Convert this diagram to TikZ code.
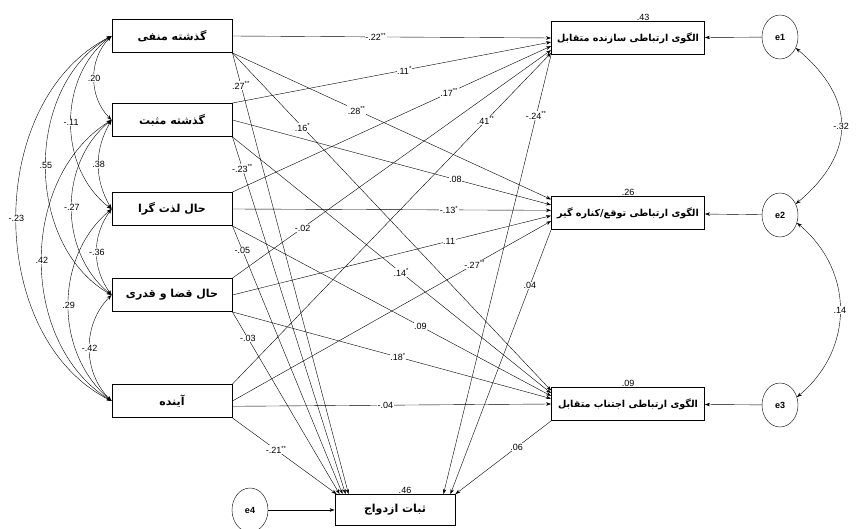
\documentclass[tikz,border=0pt]{standalone}
\usepackage{fontspec}
\setmainfont{Liberation Sans}
\newfontfamily\arabicfont[Script=Arabic]{DejaVu Sans}
\TeXXeTstate=1
\usetikzlibrary{shapes,arrows.meta,calc}
\newcommand{\fa}[1]{{\arabicfont\bfseries\beginR #1\endR}}

\begin{document}
\begin{tikzpicture}
  [
    x=1pt, y=1pt,
    block/.style =
      {draw, rectangle, line width=0.9pt, align=center, minimum width=120pt, minimum height=33pt, font=\fontsize{11}{13}\selectfont},
    wblock/.style =
      {block, minimum width=153pt, font=\fontsize{9.6}{11}\selectfont},
    err/.style =
      {draw, ellipse, minimum width=36pt, minimum height=44pt, font=\fontsize{9}{10}\selectfont\bfseries},
    oarrow/.style =
      {->, >={Stealth[length=5pt, width=3.5pt]}},
    carrow/.style =
      {<->, >={Stealth[length=5pt, width=3.5pt]}},
    coef/.style =
      {fill=white, inner sep=0.6pt, font=\fontsize{9}{10}\selectfont}
  ]

\useasboundingbox (0,0) rectangle (857,528);

\node[block] (B1) at (172,492) {\fa{گذشته منفی}};
\node[block] (B2) at (172,408) {\fa{گذشته مثبت}};
\node[block] (B3) at (172,319) {\fa{حال لذت گرا}};
\node[block] (B4) at (172,233) {\fa{حال قضا و قدری}};
\node[block] (B5) at (172,127) {\fa{آینده}};

\node[wblock, label={[coef, xshift=15pt]above:.43}] (R1) at (628,490) {\fa{الگوی ارتباطی سازنده متقابل}};
\node[wblock, label={[coef]above:.26}] (R2) at (628,315) {\fa{الگوی ارتباطی توقع/کناره گیر}};
\node[wblock, label={[coef]above:.09}] (R3) at (628,124) {\fa{الگوی ارتباطی اجتناب متقابل}};
\node[block, minimum height=31pt, label={[coef, xshift=10pt]above:.46}] (M) at (395,18) {\fa{ثبات ازدواج}};

\node[err] (e1) at (780,491) {e1};
\node[err] (e2) at (780,313) {e2};
\node[err] (e3) at (780,123) {e3};
\node[err] (e4) at (250,18) {e4};

\draw [oarrow] (e1) -- (R1);
\draw [oarrow] (e2) -- (R2);
\draw [oarrow] (e3) -- (R3);
\draw [oarrow] (e4) -- (M);

\draw [carrow] (e1.-35) to[out=-40, in=40, looseness=1.3] node[coef] {-.32} (e2.35);
\draw [carrow] (e2.-25) to[out=-40, in=40, looseness=1.1] node[coef] {.14} (e3.25);

\draw [carrow] (B1.west) to[bend right=45] node[coef] {.20} (B2.west);
\draw [carrow] (B1.west) to[bend right=53] node[coef] {-.11} (B3.west);
\draw [carrow] (B1.west) to[bend right=60] node[coef] {.55} (B4.west);
\draw [carrow] (B1.west) to[bend right=63] node[coef] {-.23} (B5.west);
\draw [carrow] (B2.west) to[bend right=30] node[coef] {.38} (B3.west);
\draw [carrow] (B2.west) to[bend right=51] node[coef] {-.27} (B4.west);
\draw [carrow] (B2.west) to[bend right=58] node[coef] {.42} (B5.west);
\draw [carrow] (B3.west) to[bend right=36] node[coef] {-.36} (B4.west);
\draw [carrow] (B3.west) to[bend right=50] node[coef] {.29} (B5.west);
\draw [carrow] (B4.west) to[bend right=45] node[coef] {-.42} (B5.west);

\draw [oarrow] (B1.east) -- node[coef, pos=.45] {-.22\textsuperscript{**}} (R1.west);
\draw [oarrow] (B2.north east) -- node[coef, pos=.54] {.11\textsuperscript{*}} (R1.183);
\draw [oarrow] (B3.north east) -- node[coef, pos=.68] {.17\textsuperscript{**}} (R1.186);
\draw [oarrow] (B4.north east) -- node[coef, pos=.22] {-.02} (R1.189);
\draw [oarrow] (B5.north east) -- node[coef, pos=.795] {.41\textsuperscript{**}} (R1.191);

\draw [oarrow] (B1.south east) -- node[coef, pos=.39] {.28\textsuperscript{**}} (R2.170);
\draw [oarrow] (B2.east) -- node[coef, pos=.70] {.08} (R2.174);
\draw [oarrow] (B3.east) -- node[coef, pos=.68] {-.13\textsuperscript{*}} (R2.178);
\draw [oarrow] (B4.east) -- node[coef, pos=.68] {.11} (R2.182);
\draw [oarrow] (B5.east) -- node[coef, pos=.76] {-.27\textsuperscript{**}} (R2.186);

\draw [oarrow] (B1.south east) -- node[coef, pos=.22] {.16\textsuperscript{*}} (R3.170);
\draw [oarrow] (B2.south east) -- node[coef, pos=.53] {.14\textsuperscript{*}} (R3.172);
\draw [oarrow] (B3.south east) -- node[coef, pos=.59] {.09} (R3.174);
\draw [oarrow] (B4.south east) -- node[coef, pos=.52] {.18\textsuperscript{*}} (R3.176);
\draw [oarrow] (B5.355) -- node[coef, pos=.48] {-.04} (R3.west);

\draw [oarrow] (B1.south east) -- node[coef, pos=.074] {.27\textsuperscript{**}} ([xshift=14pt]M.north west);
\draw [oarrow] (B2.south east) -- node[coef, pos=.088] {-.23\textsuperscript{**}} ([xshift=11pt]M.north west);
\draw [oarrow] (B3.south east) -- node[coef, pos=.091] {-.05} ([xshift=8pt]M.north west);
\draw [oarrow] (B4.south east) -- node[coef, pos=.145] {-.03} ([xshift=5pt]M.north west);
\draw [oarrow] (B5.south east) -- node[coef, pos=.42] {-.21\textsuperscript{**}} ([xshift=2pt]M.north west);

\draw [oarrow] (R1.south west) -- node[coef, pos=.138] {-.24\textsuperscript{**}} ([xshift=-12pt]M.north east);
\draw [oarrow] (R2.south west) -- node[coef, pos=.21] {.04} ([xshift=-5pt]M.north east);
\draw [oarrow] (R3.south west) -- node[coef, pos=.36] {.06} (M.north east);

\end{tikzpicture}
\end{document}
